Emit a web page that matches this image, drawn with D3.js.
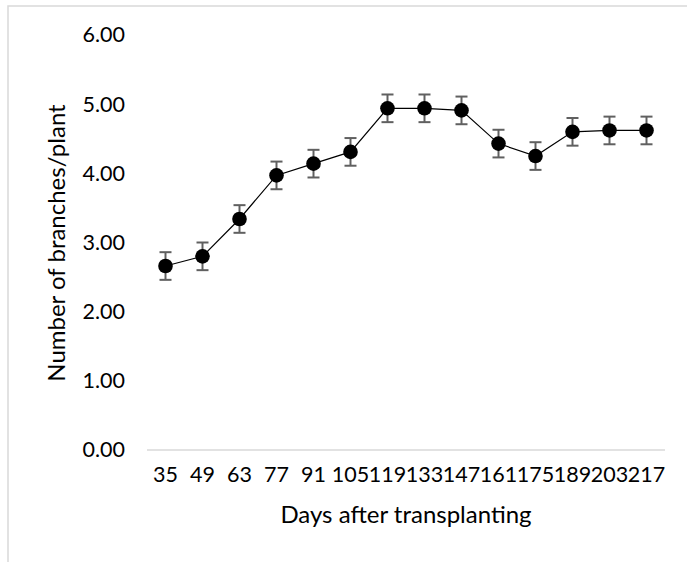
<!DOCTYPE html>
<html>
<head>
<meta charset="utf-8">
<script src="https://cdn.jsdelivr.net/npm/d3@7"></script>
<style>
  html, body { margin: 0; padding: 0; background: #fff; }
  svg { display: block; }
  text { font-family: Lato, "Open Sans", sans-serif; fill: #000; }
</style>
</head>
<body>
<script>
const days = ["35","49","63","77","91","105","119","133","147","161","175","189","203","217"];
const branches = [2.66, 2.80, 3.34, 3.97, 4.14, 4.31, 4.94, 4.94, 4.91, 4.43, 4.25, 4.60, 4.62, 4.62];
const errors = [0.2, 0.2, 0.2, 0.2, 0.2, 0.2, 0.2, 0.2, 0.2, 0.2, 0.2, 0.2, 0.2, 0.2];
const yTicks = [0, 1, 2, 3, 4, 5, 6];
const xTitle = "Days after transplanting";
const yTitle = "Number of branches/plant";

const W = 687, H = 562;
const svg = d3.select("body").append("svg").attr("width", W).attr("height", H);

svg.append("rect").attr("x", 8).attr("y", 6).attr("width", W + 20).attr("height", H + 20)
  .attr("fill", "none").attr("stroke", "#d9d9d9").attr("stroke-width", 1.5);

const x = d3.scaleBand().domain(days).range([147, 665]);
const y = d3.scaleLinear().domain([0, 6]).range([450, 35]);

svg.append("line").attr("x1", 147).attr("x2", 665).attr("y1", y(0)).attr("y2", y(0))
  .attr("stroke", "#d9d9d9").attr("stroke-width", 1.5);

const fs = 21.5;
const yAxis = d3.axisLeft(y).tickValues(yTicks).tickFormat(d3.format(".2f")).tickSize(0).tickPadding(0);
const gy = svg.append("g").attr("transform", "translate(125,0)").call(yAxis);
gy.select(".domain").remove();
gy.selectAll("text").attr("font-size", fs).attr("font-family", "Lato, 'Open Sans', sans-serif").attr("fill", "#000");

const xAxis = d3.axisBottom(x).tickSize(0).tickPadding(0);
const gx = svg.append("g").attr("transform", "translate(0,467)").call(xAxis);
gx.select(".domain").remove();
gx.selectAll("text").attr("font-size", fs).attr("font-family", "Lato, 'Open Sans', sans-serif").attr("fill", "#000");

const cx = d => x(d) + x.bandwidth() / 2;
const data = days.map((d, i) => ({ d, v: branches[i], e: errors[i] }));

svg.append("path").datum(data)
  .attr("d", d3.line().x(p => cx(p.d)).y(p => y(p.v)))
  .attr("fill", "none").attr("stroke", "#000").attr("stroke-width", 1.2);

const eb = svg.append("g").attr("stroke", "#606060").attr("stroke-width", 2);
data.forEach(p => {
  eb.append("line").attr("x1", cx(p.d)).attr("x2", cx(p.d)).attr("y1", y(p.v - p.e)).attr("y2", y(p.v + p.e));
  eb.append("line").attr("x1", cx(p.d) - 6).attr("x2", cx(p.d) + 6).attr("y1", y(p.v + p.e)).attr("y2", y(p.v + p.e));
  eb.append("line").attr("x1", cx(p.d) - 6).attr("x2", cx(p.d) + 6).attr("y1", y(p.v - p.e)).attr("y2", y(p.v - p.e));
});

svg.append("g").selectAll("circle").data(data).join("circle")
  .attr("cx", p => cx(p.d)).attr("cy", p => y(p.v)).attr("r", 7.3).attr("fill", "#000");

svg.append("text").attr("x", 406).attr("y", 523).attr("text-anchor", "middle")
  .attr("font-size", 24).text(xTitle);
svg.append("text").attr("transform", "translate(65,243) rotate(-90)").attr("text-anchor", "middle")
  .attr("font-size", 24).text(yTitle);
</script>
</body>
</html>
